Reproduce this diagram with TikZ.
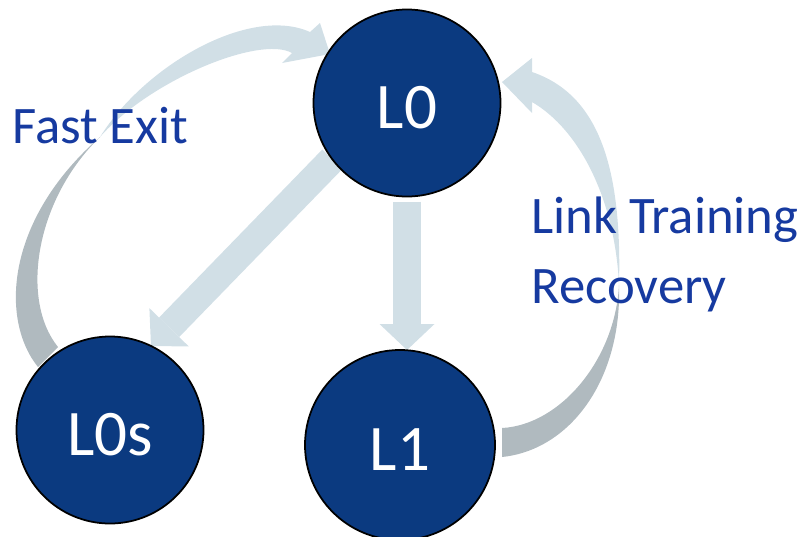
\documentclass[tikz,border=0pt]{standalone}
\usepackage{fontspec}
\setmainfont{Carlito}
\usetikzlibrary{arrows.meta,backgrounds,calc}

\definecolor{statefill}{RGB}{11,58,128}
\definecolor{flowlight}{RGB}{209,223,230}
\definecolor{flowdark}{RGB}{176,186,191}
\definecolor{textblue}{RGB}{22,58,160}

\tikzset{
  state/.style={draw=black, line width=1pt, circle, fill=statefill, text=white,
    minimum size=3.74cm, inner sep=0pt, outer sep=0pt,
    font=\fontsize{37}{40}\selectfont, text height=29pt, text depth=0pt},
  flow/.style={draw=flowlight, line width=5.6mm,
    -{Triangle[width=11mm,length=5.2mm,line width=0pt]}},
  note/.style={text=textblue, font=\fontsize{30}{39.7}\selectfont,
    inner sep=0pt, align=left},
}

\begin{document}
\begin{tikzpicture}[x=0.2mm, y=-0.2mm]
    \useasboundingbox (0,0) rectangle (807,536);

    \node[state] (L0) at (407,103) {L0};
    \node[state] (L0s) at (110,430) {L0s};
    \node[state, minimum size=3.8cm] (L1) at (400,445) {L1};

    \begin{scope}[on background layer]
        \draw[flow] (L0.217) -- (L0s.64);
        \draw[flow] ($(L0.south)+(0,5)$) -- (L0.south |- L1.north);

        % fast exit: L0s back up to L0
        \fill[flowdark] (38,367) .. controls (0,320) and (5,220) .. (100,137)
            .. controls (35,200) and (20,300) .. (58,347) -- cycle;
        \fill[flowlight] (100,137) .. controls (145,65) and (250,5) .. (310,32)
            -- (320,23) -- (330,54) -- (282,63) -- (292,53)
            .. controls (260,35) and (150,80) .. (100,137) -- cycle;

        % recovery: L1 back up to L0
        \fill[flowdark] (619,285) .. controls (622,380) and (570,450) .. (502,457)
            -- (502,428) .. controls (560,425) and (615,360) .. (619,285) -- cycle;
        \fill[flowlight] (619,285) .. controls (622,170) and (600,95) .. (532,72)
            -- (532,58) -- (502,82) -- (532,113) -- (532,102)
            .. controls (580,130) and (615,200) .. (619,285) -- cycle;
    \end{scope}

    \node[note, anchor=base west] (fastexit) at (12,143) {Fast Exit};
    \node[note, anchor=base west] (recovery) at (531,303) {Link Training\\Recovery};
\end{tikzpicture}
\end{document}
